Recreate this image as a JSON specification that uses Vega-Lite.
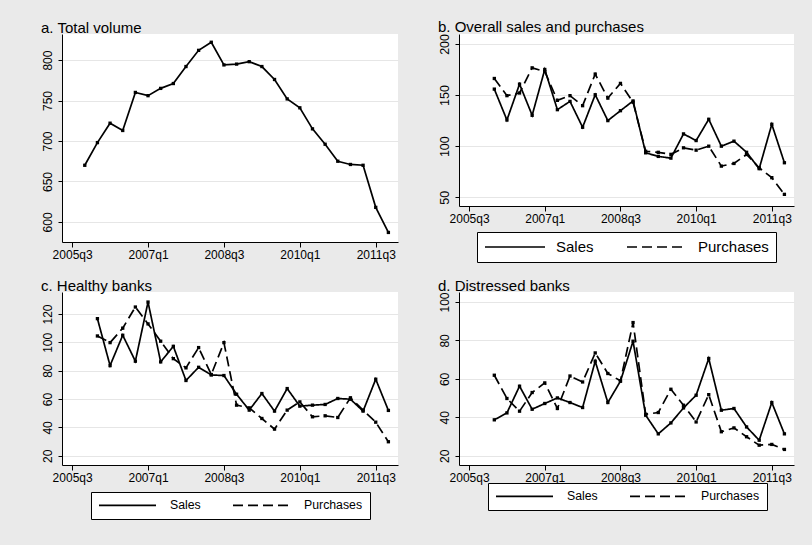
{
  "$schema": "https://vega.github.io/schema/vega-lite/v6.json",
  "background": "#EAEAEA",
  "padding": {"left": 41, "top": 20, "right": 20, "bottom": 30},
  "columns": 2,
  "spacing": {"row": 50, "column": 61},
  "bounds": "flush",
  "align": "each",
  "resolve": {"scale": {"strokeDash": "independent"}, "legend": {"strokeDash": "independent"}},
  "datasets": {
    "a": [
      {"t": 2005.75, "value": 670}, {"t": 2006.0, "value": 698}, {"t": 2006.25, "value": 722}, {"t": 2006.5, "value": 713},
      {"t": 2006.75, "value": 760}, {"t": 2007.0, "value": 756}, {"t": 2007.25, "value": 765}, {"t": 2007.5, "value": 771},
      {"t": 2007.75, "value": 792}, {"t": 2008.0, "value": 812}, {"t": 2008.25, "value": 822}, {"t": 2008.5, "value": 794},
      {"t": 2008.75, "value": 795}, {"t": 2009.0, "value": 798}, {"t": 2009.25, "value": 792}, {"t": 2009.5, "value": 776},
      {"t": 2009.75, "value": 752}, {"t": 2010.0, "value": 741}, {"t": 2010.25, "value": 715}, {"t": 2010.5, "value": 696},
      {"t": 2010.75, "value": 675}, {"t": 2011.0, "value": 671}, {"t": 2011.25, "value": 670}, {"t": 2011.5, "value": 618},
      {"t": 2011.75, "value": 587}
    ],
    "b": [
      {"t": 2006.0, "series": "Sales", "value": 155.8}, {"t": 2006.25, "series": "Sales", "value": 125.6},
      {"t": 2006.5, "series": "Sales", "value": 160.7}, {"t": 2006.75, "series": "Sales", "value": 130.2},
      {"t": 2007.0, "series": "Sales", "value": 175}, {"t": 2007.25, "series": "Sales", "value": 135.7},
      {"t": 2007.5, "series": "Sales", "value": 143.8}, {"t": 2007.75, "series": "Sales", "value": 118.5},
      {"t": 2008.0, "series": "Sales", "value": 150.3}, {"t": 2008.25, "series": "Sales", "value": 125},
      {"t": 2008.5, "series": "Sales", "value": 134.7}, {"t": 2008.75, "series": "Sales", "value": 144.2},
      {"t": 2009.0, "series": "Sales", "value": 93.5}, {"t": 2009.25, "series": "Sales", "value": 90},
      {"t": 2009.5, "series": "Sales", "value": 88.3}, {"t": 2009.75, "series": "Sales", "value": 112},
      {"t": 2010.0, "series": "Sales", "value": 105.5}, {"t": 2010.25, "series": "Sales", "value": 126.3},
      {"t": 2010.5, "series": "Sales", "value": 100}, {"t": 2010.75, "series": "Sales", "value": 104.9},
      {"t": 2011.0, "series": "Sales", "value": 94}, {"t": 2011.25, "series": "Sales", "value": 78},
      {"t": 2011.5, "series": "Sales", "value": 121.4}, {"t": 2011.75, "series": "Sales", "value": 83.8},
      {"t": 2006.0, "series": "Purchases", "value": 166.2}, {"t": 2006.25, "series": "Purchases", "value": 149.4},
      {"t": 2006.5, "series": "Purchases", "value": 152}, {"t": 2006.75, "series": "Purchases", "value": 176.6},
      {"t": 2007.0, "series": "Purchases", "value": 173}, {"t": 2007.25, "series": "Purchases", "value": 144.8},
      {"t": 2007.5, "series": "Purchases", "value": 149.4}, {"t": 2007.75, "series": "Purchases", "value": 139.6},
      {"t": 2008.0, "series": "Purchases", "value": 170.5}, {"t": 2008.25, "series": "Purchases", "value": 147},
      {"t": 2008.5, "series": "Purchases", "value": 161.4}, {"t": 2008.75, "series": "Purchases", "value": 143},
      {"t": 2009.0, "series": "Purchases", "value": 95}, {"t": 2009.25, "series": "Purchases", "value": 94},
      {"t": 2009.5, "series": "Purchases", "value": 92}, {"t": 2009.75, "series": "Purchases", "value": 98.4},
      {"t": 2010.0, "series": "Purchases", "value": 96.1}, {"t": 2010.25, "series": "Purchases", "value": 100},
      {"t": 2010.5, "series": "Purchases", "value": 80.5}, {"t": 2010.75, "series": "Purchases", "value": 83.1},
      {"t": 2011.0, "series": "Purchases", "value": 91.9}, {"t": 2011.25, "series": "Purchases", "value": 78.9},
      {"t": 2011.5, "series": "Purchases", "value": 69.2}, {"t": 2011.75, "series": "Purchases", "value": 52.9}
    ],
    "c": [
      {"t": 2006.0, "series": "Sales", "value": 116.7}, {"t": 2006.25, "series": "Sales", "value": 83.6},
      {"t": 2006.5, "series": "Sales", "value": 105}, {"t": 2006.75, "series": "Sales", "value": 86.7},
      {"t": 2007.0, "series": "Sales", "value": 128.4}, {"t": 2007.25, "series": "Sales", "value": 86.2},
      {"t": 2007.5, "series": "Sales", "value": 97.2}, {"t": 2007.75, "series": "Sales", "value": 73.1},
      {"t": 2008.0, "series": "Sales", "value": 82.4}, {"t": 2008.25, "series": "Sales", "value": 77},
      {"t": 2008.5, "series": "Sales", "value": 76.6}, {"t": 2008.75, "series": "Sales", "value": 63.4},
      {"t": 2009.0, "series": "Sales", "value": 52.2}, {"t": 2009.25, "series": "Sales", "value": 63.9},
      {"t": 2009.5, "series": "Sales", "value": 51.5}, {"t": 2009.75, "series": "Sales", "value": 67.4},
      {"t": 2010.0, "series": "Sales", "value": 55}, {"t": 2010.25, "series": "Sales", "value": 55.7},
      {"t": 2010.5, "series": "Sales", "value": 56.2}, {"t": 2010.75, "series": "Sales", "value": 60.4},
      {"t": 2011.0, "series": "Sales", "value": 59.9}, {"t": 2011.25, "series": "Sales", "value": 51.5},
      {"t": 2011.5, "series": "Sales", "value": 74}, {"t": 2011.75, "series": "Sales", "value": 52},
      {"t": 2006.0, "series": "Purchases", "value": 104.5}, {"t": 2006.25, "series": "Purchases", "value": 99.8},
      {"t": 2006.5, "series": "Purchases", "value": 110}, {"t": 2006.75, "series": "Purchases", "value": 124.9},
      {"t": 2007.0, "series": "Purchases", "value": 113}, {"t": 2007.25, "series": "Purchases", "value": 100.8},
      {"t": 2007.5, "series": "Purchases", "value": 88.5}, {"t": 2007.75, "series": "Purchases", "value": 82},
      {"t": 2008.0, "series": "Purchases", "value": 96.3}, {"t": 2008.25, "series": "Purchases", "value": 77.3},
      {"t": 2008.5, "series": "Purchases", "value": 99.8}, {"t": 2008.75, "series": "Purchases", "value": 55.7},
      {"t": 2009.0, "series": "Purchases", "value": 53.8}, {"t": 2009.25, "series": "Purchases", "value": 46.3},
      {"t": 2009.5, "series": "Purchases", "value": 38.8}, {"t": 2009.75, "series": "Purchases", "value": 52.2},
      {"t": 2010.0, "series": "Purchases", "value": 58}, {"t": 2010.25, "series": "Purchases", "value": 47.5},
      {"t": 2010.5, "series": "Purchases", "value": 48.2}, {"t": 2010.75, "series": "Purchases", "value": 47},
      {"t": 2011.0, "series": "Purchases", "value": 60.9}, {"t": 2011.25, "series": "Purchases", "value": 52.2},
      {"t": 2011.5, "series": "Purchases", "value": 43.7}, {"t": 2011.75, "series": "Purchases", "value": 29.9}
    ],
    "d": [
      {"t": 2006.0, "series": "Sales", "value": 38.7}, {"t": 2006.25, "series": "Sales", "value": 42.3},
      {"t": 2006.5, "series": "Sales", "value": 56.2}, {"t": 2006.75, "series": "Sales", "value": 44.2},
      {"t": 2007.0, "series": "Sales", "value": 47.2}, {"t": 2007.25, "series": "Sales", "value": 50.1},
      {"t": 2007.5, "series": "Sales", "value": 47.7}, {"t": 2007.75, "series": "Sales", "value": 45.1},
      {"t": 2008.0, "series": "Sales", "value": 69.2}, {"t": 2008.25, "series": "Sales", "value": 47.7},
      {"t": 2008.5, "series": "Sales", "value": 58.8}, {"t": 2008.75, "series": "Sales", "value": 79.6},
      {"t": 2009.0, "series": "Sales", "value": 41.1}, {"t": 2009.25, "series": "Sales", "value": 31.4},
      {"t": 2009.5, "series": "Sales", "value": 37.1}, {"t": 2009.75, "series": "Sales", "value": 44.9},
      {"t": 2010.0, "series": "Sales", "value": 51.5}, {"t": 2010.25, "series": "Sales", "value": 70.6},
      {"t": 2010.5, "series": "Sales", "value": 43.7}, {"t": 2010.75, "series": "Sales", "value": 44.6},
      {"t": 2011.0, "series": "Sales", "value": 35}, {"t": 2011.25, "series": "Sales", "value": 28.1},
      {"t": 2011.5, "series": "Sales", "value": 47.7}, {"t": 2011.75, "series": "Sales", "value": 31.4},
      {"t": 2006.0, "series": "Purchases", "value": 61.9}, {"t": 2006.25, "series": "Purchases", "value": 49.8},
      {"t": 2006.5, "series": "Purchases", "value": 43.2}, {"t": 2006.75, "series": "Purchases", "value": 52.9},
      {"t": 2007.0, "series": "Purchases", "value": 57.9}, {"t": 2007.25, "series": "Purchases", "value": 44.6},
      {"t": 2007.5, "series": "Purchases", "value": 61.5}, {"t": 2007.75, "series": "Purchases", "value": 58.4},
      {"t": 2008.0, "series": "Purchases", "value": 73.5}, {"t": 2008.25, "series": "Purchases", "value": 62.8},
      {"t": 2008.5, "series": "Purchases", "value": 59}, {"t": 2008.75, "series": "Purchases", "value": 89.3},
      {"t": 2009.0, "series": "Purchases", "value": 41.6}, {"t": 2009.25, "series": "Purchases", "value": 42.5},
      {"t": 2009.5, "series": "Purchases", "value": 54.6}, {"t": 2009.75, "series": "Purchases", "value": 46.3},
      {"t": 2010.0, "series": "Purchases", "value": 37.6}, {"t": 2010.25, "series": "Purchases", "value": 51.8},
      {"t": 2010.5, "series": "Purchases", "value": 32.5}, {"t": 2010.75, "series": "Purchases", "value": 34.5},
      {"t": 2011.0, "series": "Purchases", "value": 29.9}, {"t": 2011.25, "series": "Purchases", "value": 25.5},
      {"t": 2011.5, "series": "Purchases", "value": 25.9}, {"t": 2011.75, "series": "Purchases", "value": 23.3}
    ]
  },
  "concat": [
    {
      "title": "a. Total volume",
      "width": 336, "height": 208,
      "data": {"name": "a"},
      "encoding": {
        "x": {"field": "t", "type": "quantitative", "scale": {"domain": [2005.3, 2011.94], "nice": false, "zero": false},
              "axis": {"values": [2005.5, 2007, 2008.5, 2010, 2011.5], "labelExpr": "floor(datum.value) + 'q' + (round((datum.value - floor(datum.value)) * 4) + 1)"}},
        "y": {"field": "value", "type": "quantitative", "scale": {"domain": [575.2, 832.2], "nice": false, "zero": false},
              "axis": {"values": [600, 650, 700, 750, 800]}}
      },
      "layer": [
        {"mark": {"type": "line", "color": "black", "strokeWidth": 1.7}},
        {"mark": {"type": "point", "shape": "square", "filled": true, "color": "black", "size": 11, "opacity": 1}}
      ]
    },
    {
      "title": "b. Overall sales and purchases",
      "width": 335, "height": 172,
      "data": {"name": "b"},
      "encoding": {
        "x": {"field": "t", "type": "quantitative", "scale": {"domain": [2005.3, 2011.94], "nice": false, "zero": false},
              "axis": {"values": [2005.5, 2007, 2008.5, 2010, 2011.5], "labelExpr": "floor(datum.value) + 'q' + (round((datum.value - floor(datum.value)) * 4) + 1)"}},
        "y": {"field": "value", "type": "quantitative", "scale": {"domain": [41.5, 209.7], "nice": false, "zero": false},
              "axis": {"values": [50, 100, 150, 200], "labelFontSize": 12.5}}
      },
      "layer": [
        {"mark": {"type": "line", "color": "black", "strokeWidth": 1.7},
         "encoding": {"strokeDash": {"field": "series", "type": "nominal",
           "scale": {"domain": ["Sales", "Purchases"], "range": [[1, 0], [10, 5]]},
           "legend": {"title": null, "orient": "none", "legendX": 18, "legendY": 198, "direction": "horizontal",
             "padding": 7, "strokeColor": "black", "fillColor": "white", "symbolType": "stroke", "symbolSize": 3600,
             "symbolStrokeWidth": 1.6, "symbolStrokeColor": "black", "labelFontSize": 15, "labelOffset": 10,
             "columnPadding": 32, "clipHeight": 16, "labelColor": "black", "labelFont": "Liberation Sans"}}}},
        {"mark": {"type": "point", "shape": "square", "filled": true, "color": "black", "size": 11, "opacity": 1}}
      ]
    },
    {
      "title": "c. Healthy banks",
      "width": 336, "height": 173,
      "data": {"name": "c"},
      "encoding": {
        "x": {"field": "t", "type": "quantitative", "scale": {"domain": [2005.3, 2011.94], "nice": false, "zero": false},
              "axis": {"values": [2005.5, 2007, 2008.5, 2010, 2011.5], "labelExpr": "floor(datum.value) + 'q' + (round((datum.value - floor(datum.value)) * 4) + 1)"}},
        "y": {"field": "value", "type": "quantitative", "scale": {"domain": [13.5, 135.5], "nice": false, "zero": false},
              "axis": {"values": [20, 40, 60, 80, 100, 120]}}
      },
      "layer": [
        {"mark": {"type": "line", "color": "black", "strokeWidth": 1.7},
         "encoding": {"strokeDash": {"field": "series", "type": "nominal",
           "scale": {"domain": ["Sales", "Purchases"], "range": [[1, 0], [10, 5]]},
           "legend": {"title": null, "orient": "none", "legendX": 29, "legendY": 200, "direction": "horizontal",
             "padding": 7, "strokeColor": "black", "fillColor": "white", "symbolType": "stroke", "symbolSize": 3249,
             "symbolStrokeWidth": 1.6, "symbolStrokeColor": "black", "labelFontSize": 12.3, "labelOffset": 13,
             "columnPadding": 31, "clipHeight": 12, "labelColor": "black", "labelFont": "Liberation Sans"}}}},
        {"mark": {"type": "point", "shape": "square", "filled": true, "color": "black", "size": 11, "opacity": 1}}
      ]
    },
    {
      "title": "d. Distressed banks",
      "width": 335, "height": 173,
      "data": {"name": "d"},
      "encoding": {
        "x": {"field": "t", "type": "quantitative", "scale": {"domain": [2005.3, 2011.94], "nice": false, "zero": false},
              "axis": {"values": [2005.5, 2007, 2008.5, 2010, 2011.5], "labelExpr": "floor(datum.value) + 'q' + (round((datum.value - floor(datum.value)) * 4) + 1)"}},
        "y": {"field": "value", "type": "quantitative", "scale": {"domain": [15.2, 105.2], "nice": false, "zero": false},
              "axis": {"values": [20, 40, 60, 80, 100]}}
      },
      "layer": [
        {"mark": {"type": "line", "color": "black", "strokeWidth": 1.7},
         "encoding": {"strokeDash": {"field": "series", "type": "nominal",
           "scale": {"domain": ["Sales", "Purchases"], "range": [[1, 0], [10, 5]]},
           "legend": {"title": null, "orient": "none", "legendX": 29, "legendY": 191, "direction": "horizontal",
             "padding": 7, "strokeColor": "black", "fillColor": "white", "symbolType": "stroke", "symbolSize": 3249,
             "symbolStrokeWidth": 1.6, "symbolStrokeColor": "black", "labelFontSize": 12.3, "labelOffset": 13,
             "columnPadding": 31, "clipHeight": 12, "labelColor": "black", "labelFont": "Liberation Sans"}}}},
        {"mark": {"type": "point", "shape": "square", "filled": true, "color": "black", "size": 11, "opacity": 1}}
      ]
    }
  ],
  "config": {
    "font": "Liberation Sans",
    "view": {"stroke": null, "fill": "white"},
    "axis": {"domainColor": "black", "domainWidth": 1, "tickColor": "black", "tickWidth": 1, "labelColor": "black",
             "labelFont": "Liberation Sans", "labelFontSize": 12, "title": null, "grid": false, "labelOverlap": false},
    "axisY": {"grid": true, "gridColor": "#E6E6E6", "gridWidth": 1, "labelAngle": -90, "labelAlign": "center",
              "labelBaseline": "bottom", "tickSize": 4, "labelPadding": 4},
    "axisX": {"tickSize": 5, "labelPadding": 2},
    "title": {"anchor": "start", "fontSize": 15, "fontWeight": "normal", "font": "Liberation Sans", "color": "black",
              "offset": -2, "baseline": "alphabetic"}
  }
}
